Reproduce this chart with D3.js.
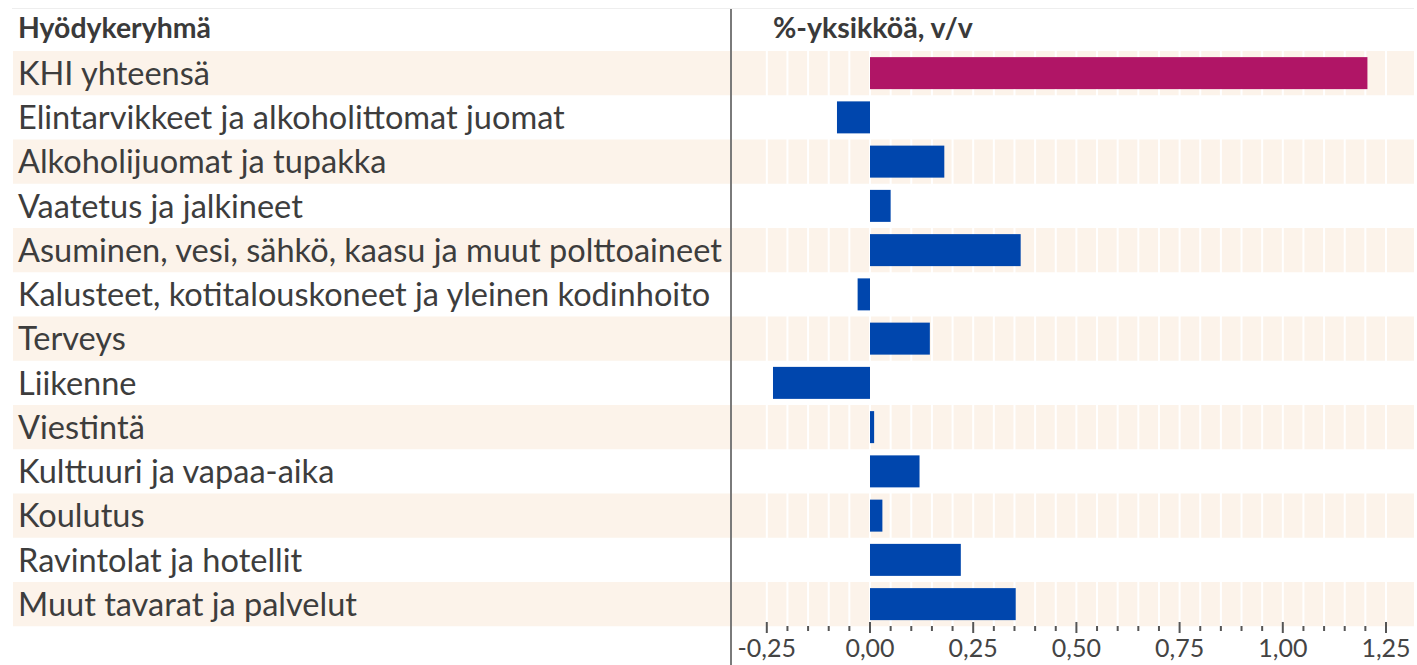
<!DOCTYPE html>
<html>
<head>
<meta charset="utf-8">
<script src="https://cdn.jsdelivr.net/npm/d3@7"></script>
<style>
  html, body { margin: 0; padding: 0; background: #fff; }
  svg { display: block; }
  text { font-family: Lato, "Noto Sans", sans-serif; }
</style>
</head>
<body>
<svg id="chart" width="1417" height="665"></svg>
<script>
const categories = [
  "KHI yhteensä",
  "Elintarvikkeet ja alkoholittomat juomat",
  "Alkoholijuomat ja tupakka",
  "Vaatetus ja jalkineet",
  "Asuminen, vesi, sähkö, kaasu ja muut polttoaineet",
  "Kalusteet, kotitalouskoneet ja yleinen kodinhoito",
  "Terveys",
  "Liikenne",
  "Viestintä",
  "Kulttuuri ja vapaa-aika",
  "Koulutus",
  "Ravintolat ja hotellit",
  "Muut tavarat ja palvelut"
];
const values = [1.205, -0.08, 0.18, 0.05, 0.365, -0.03, 0.145, -0.235, 0.01, 0.12, 0.03, 0.22, 0.353];
const majorTicks = [-0.25, 0, 0.25, 0.5, 0.75, 1.0, 1.25];
const tickLabels = ["-0,25", "0,00", "0,25", "0,50", "0,75", "1,00", "1,25"];
const minorTicks = d3.range(-25, 130, 5).map(d => d / 100);
const headerLeft = "Hyödykeryhmä";
const headerRight = "%-yksikköä, v/v";

const svg = d3.select("#chart");

const x = d3.scaleLinear().domain([0, 1.25]).range([870, 1386]);
const y = d3.scaleBand().domain(categories).range([51, 626.25]).paddingInner(0).paddingOuter(0);

// top faint line
svg.append("line").attr("x1", 12).attr("x2", 1414).attr("y1", 8.5).attr("y2", 8.5)
  .attr("stroke", "#eeeeee").attr("stroke-width", 1);

// bands
svg.append("g").selectAll("rect").data(categories.filter((d, i) => i % 2 === 0)).join("rect")
  .attr("x", 13).attr("width", 1414 - 13)
  .attr("y", d => y(d)).attr("height", y.bandwidth())
  .attr("fill", "#fcf3ea");

// white grid lines
svg.append("g").selectAll("line").data(minorTicks).join("line")
  .attr("x1", d => x(d)).attr("x2", d => x(d))
  .attr("y1", 51).attr("y2", 626.25)
  .attr("stroke", "#ffffff").attr("stroke-width", 2);

// bars
const barH = 32;
svg.append("g").selectAll("rect").data(values).join("rect")
  .attr("x", d => x(Math.min(0, d)))
  .attr("width", d => Math.abs(x(d) - x(0)))
  .attr("y", (d, i) => y(categories[i]) + (y.bandwidth() - barH) / 2)
  .attr("height", barH)
  .attr("fill", (d, i) => i === 0 ? "#b01566" : "#0046ad");

// axis ticks
const axisG = svg.append("g");
axisG.selectAll("line.minor").data(minorTicks.filter(t => !majorTicks.some(m => Math.abs(m - t) < 1e-9))).join("line")
  .attr("class", "minor")
  .attr("x1", d => x(d)).attr("x2", d => x(d))
  .attr("y1", 626).attr("y2", 631)
  .attr("stroke", "#555").attr("stroke-width", 2);
axisG.selectAll("line.major").data(majorTicks).join("line")
  .attr("class", "major")
  .attr("x1", d => x(d)).attr("x2", d => x(d))
  .attr("y1", 622).attr("y2", 633)
  .attr("stroke", "#555").attr("stroke-width", 2);
axisG.selectAll("text").data(majorTicks).join("text")
  .attr("x", d => x(d)).attr("y", 657)
  .attr("text-anchor", "middle")
  .attr("fill", "#444")
  .style("font-size", "25px")
  .text((d, i) => tickLabels[i]);

// vertical axis line
svg.append("line").attr("x1", 731).attr("x2", 731).attr("y1", 9).attr("y2", 665)
  .attr("stroke", "#7a7a7a").attr("stroke-width", 2);

// category labels, fitted so longest label spans ~704px
const lab = svg.append("g").selectAll("text").data(categories).join("text")
  .attr("x", 18)
  .attr("fill", "#3d3d3d")
  .style("font-size", "30px")
  .text(d => d);
let maxW = 0;
lab.each(function() { maxW = Math.max(maxW, this.getComputedTextLength()); });
const fs = 30 * 704 / maxW;
lab.style("font-size", fs + "px")
  .attr("y", d => y(d) + y.bandwidth() / 2 + fs * 0.36);

// headers, fitted to reference widths
function header(txt, x0, targetW) {
  const t = svg.append("text").attr("x", x0).attr("y", 38)
    .attr("fill", "#3a3a3a").style("font-weight", "bold").style("font-size", "24px")
    .text(txt);
  const w = t.node().getComputedTextLength();
  t.style("font-size", (24 * targetW / w) + "px");
}
header(headerLeft, 18, 193);
header(headerRight, 773, 200);
</script>
</body>
</html>
